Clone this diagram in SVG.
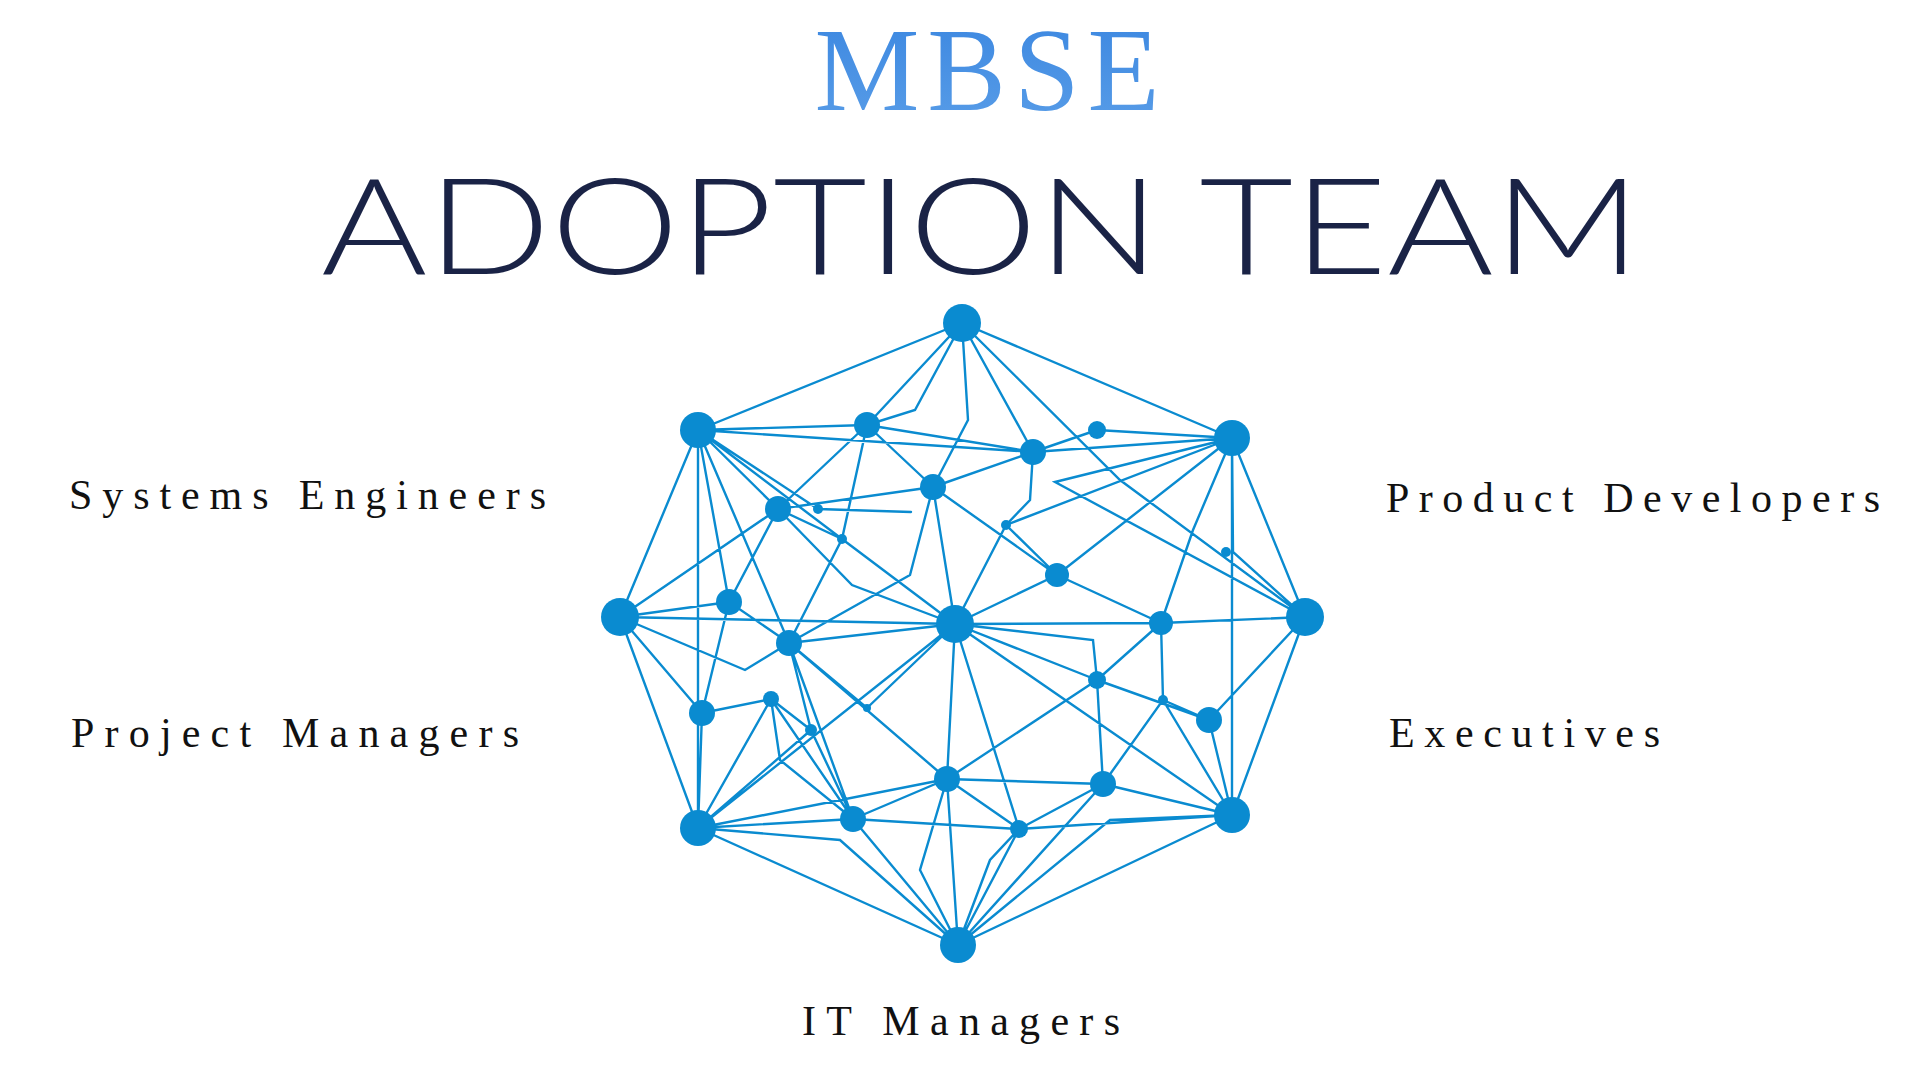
<svg xmlns="http://www.w3.org/2000/svg" width="1920" height="1080" viewBox="0 0 1920 1080">
<defs>
<linearGradient id="g" x1="0" y1="0" x2="0" y2="1"><stop offset="0" stop-color="#3a86e0"/><stop offset="1" stop-color="#5a9ee8"/></linearGradient>
<style>
.e{stroke:#0a8bd0;stroke-width:2.4;fill:none;stroke-linecap:round}
.n{fill:#0a8bd0}
.lb{font-family:"Liberation Serif",serif;font-size:42px;fill:#111}
</style>
</defs>
<rect width="1920" height="1080" fill="#fff"/>
<text x="987" y="110" text-anchor="middle" font-family="Liberation Serif,serif" font-size="118" fill="url(#g)" textLength="345" lengthAdjust="spacing">MBSE</text>
<text x="981" y="274" text-anchor="middle" font-family="Lato,Open Sans,sans-serif" font-size="134" font-weight="300" fill="#1a2346" textLength="1320" lengthAdjust="spacingAndGlyphs">ADOPTION TEAM</text>
<g id="connectors">
<path class="e" d="M962,323L698,430M962,323L1232,438M962,323L867,425M962,323L1033,452M962,323L968,420L933,487M962,323L1120,480L1305,617M962,323L915,410L867,425
M698,430L867,425M698,430L1033,452M698,430L778,509M698,430L729,602M698,430L789,643M698,430L620,617M698,430L698,828M698,430L842,539L955,624M698,430L818,509L911,512
M1232,438L1033,452M1232,438L1097,430M1232,438L1057,575M1232,438L1305,617M1232,438L1232,815M1232,438L1006,525M1232,438L1193,530L1161,623M1232,438L1055,482L1305,617M1232,438L1233,552L1305,617
M620,617L729,602M620,617L778,509M620,617L702,713M620,617L698,828M620,617L745,670L789,643M620,617L955,624
M1305,617L1161,623M1305,617L1209,720M1305,617L1232,815M1305,617L1055,482
M698,828L702,713M698,828L771,699M698,828L853,819M698,828L947,779M698,828L955,624M698,828L958,945M698,828L840,840L958,945M698,828L811,730
M1232,815L1209,720M1232,815L1103,784M1232,815L1019,829M1232,815L958,945M1232,815L955,624M1232,815L1110,820L958,945M1232,815L1163,700
M958,945L853,819M958,945L947,779M958,945L1019,829M958,945L920,870L947,779M958,945L990,860L1019,829M958,945L1103,784
M955,624L933,487M955,624L1057,575M955,624L1161,623M955,624L1097,680M955,624L947,779M955,624L1019,829M955,624L789,643M955,624L867,708M955,624L1006,525M955,624L852,585L778,509
M867,425L933,487M867,425L778,509M867,425L842,539L789,643M867,425L1033,452M933,487L1033,452M933,487L778,509M933,487L1057,575M933,487L910,575L789,643M1033,452L1097,430M1033,452L1030,500L1006,525
M778,509L729,602M778,509L842,539M729,602L789,643M729,602L702,713M789,643L853,819M789,643L947,779M789,643L811,730M789,643L867,708
M702,713L771,699M771,699L811,730M771,699L780,760L853,819M771,699L853,819M811,730L853,819
M1057,575L1161,623M1057,575L1006,525M1161,623L1097,680M1161,623L1163,700L1103,784M1097,680L1103,784M1097,680L1209,720M1209,720L1163,700M1103,784L947,779M1103,784L1019,829M853,819L1019,829M853,819L947,779M947,779L1019,829M947,779L1097,680M1097,680L1093,640L955,624"/>
</g>
<g id="nodes">
<circle class="n" cx="962" cy="323" r="19"/><circle class="n" cx="698" cy="430" r="18"/><circle class="n" cx="1232" cy="438" r="18"/><circle class="n" cx="620" cy="617" r="19"/><circle class="n" cx="1305" cy="617" r="19"/><circle class="n" cx="698" cy="828" r="18"/><circle class="n" cx="1232" cy="815" r="18"/><circle class="n" cx="958" cy="945" r="18"/><circle class="n" cx="955" cy="624" r="19"/>
<circle class="n" cx="867" cy="425" r="13"/><circle class="n" cx="1033" cy="452" r="13"/><circle class="n" cx="1097" cy="430" r="9"/><circle class="n" cx="933" cy="487" r="13"/><circle class="n" cx="778" cy="509" r="13"/><circle class="n" cx="729" cy="602" r="13"/><circle class="n" cx="789" cy="643" r="13"/><circle class="n" cx="1057" cy="575" r="12"/><circle class="n" cx="1161" cy="623" r="12"/><circle class="n" cx="1097" cy="680" r="9"/><circle class="n" cx="1209" cy="720" r="13"/><circle class="n" cx="702" cy="713" r="13"/><circle class="n" cx="771" cy="699" r="8"/><circle class="n" cx="947" cy="779" r="13"/><circle class="n" cx="1103" cy="784" r="13"/><circle class="n" cx="853" cy="819" r="13"/><circle class="n" cx="1019" cy="829" r="9"/>
<circle class="n" cx="818" cy="509" r="5"/><circle class="n" cx="842" cy="539" r="5"/><circle class="n" cx="811" cy="730" r="6"/><circle class="n" cx="1006" cy="525" r="5"/><circle class="n" cx="1226" cy="552" r="5"/><circle class="n" cx="1163" cy="700" r="5"/><circle class="n" cx="867" cy="708" r="4"/>
</g>
<g id="labels">
<text class="lb" x="69" y="509" textLength="477" lengthAdjust="spacing">Systems Engineers</text>
<text class="lb" x="1386" y="512" textLength="494" lengthAdjust="spacing">Product Developers</text>
<text class="lb" x="71" y="747" textLength="448" lengthAdjust="spacing">Project Managers</text>
<text class="lb" x="1389" y="747" textLength="271" lengthAdjust="spacing">Executives</text>
<text class="lb" x="802" y="1035" textLength="318" lengthAdjust="spacing">IT Managers</text>
</g>
</svg>
